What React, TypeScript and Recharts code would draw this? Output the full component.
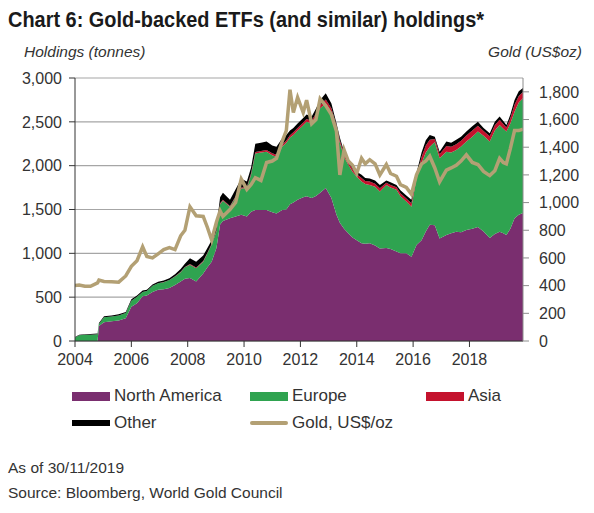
import React from 'react';
import { ComposedChart, Area, Line, XAxis, YAxis, CartesianGrid } from 'recharts';

const years = [
  2004.0, 2004.15, 2004.35, 2004.55, 2004.8, 2004.85, 2005.03, 2005.3, 2005.55, 2005.8,
  2006.0, 2006.2, 2006.4, 2006.55, 2006.75, 2006.95, 2007.15, 2007.35, 2007.55, 2007.75,
  2007.9, 2008.08, 2008.3, 2008.55, 2008.7, 2008.85, 2009.02, 2009.15, 2009.25, 2009.5,
  2009.7, 2009.9, 2010.1, 2010.25, 2010.4, 2010.6, 2010.8, 2011.0, 2011.15, 2011.35,
  2011.5, 2011.63, 2011.75, 2011.9, 2012.1, 2012.22, 2012.4, 2012.55, 2012.7, 2012.9,
  2013.1, 2013.28, 2013.4, 2013.55, 2013.7, 2013.85, 2014.0, 2014.17, 2014.3, 2014.46,
  2014.65, 2014.82, 2015.05, 2015.2, 2015.41, 2015.55, 2015.76, 2015.94, 2016.12, 2016.3,
  2016.45, 2016.59, 2016.77, 2016.94, 2017.18, 2017.35, 2017.53, 2017.7, 2017.89, 2018.1,
  2018.3, 2018.5, 2018.72, 2018.9, 2019.07, 2019.2, 2019.31, 2019.45, 2019.6, 2019.75,
  2019.9,
];

const northAmerica = [
  0, 0, 0, 0, 0, 170, 215, 225, 235, 260,
  390, 430, 510, 520, 560, 585, 590, 605, 640, 680,
  710, 720, 680, 770, 840, 905, 1060, 1330, 1370, 1400,
  1420, 1440, 1420, 1475, 1495, 1495, 1495, 1470, 1455, 1495,
  1500, 1560, 1580, 1610, 1640, 1650, 1630, 1655, 1690, 1745,
  1630, 1440, 1350, 1280, 1230, 1180, 1150, 1115, 1110, 1115,
  1090, 1055, 1060, 1050, 1020, 1000, 1000, 960, 1095, 1150,
  1250, 1325, 1320, 1170, 1210, 1230, 1245, 1240, 1265, 1280,
  1300, 1250, 1175, 1220, 1245, 1230, 1210, 1280, 1400, 1440,
  1460,
];

const europe = [
  40, 65, 70, 72, 78, 25, 55, 55, 57, 60,
  70, 75, 50, 50, 70, 75, 80, 90, 95, 105,
  130, 150, 150, 135, 160, 195, 190, 230, 230, 130,
  220, 300, 325, 425, 645, 655, 665, 650, 645, 720,
  760, 760, 770, 790, 820, 850, 850, 905, 965, 965,
  985, 990, 910, 820, 780, 750, 725, 705, 680, 665,
  670, 650, 720, 700, 705, 650, 590, 570, 760, 880,
  900, 890, 950, 915, 950, 920, 935, 980, 1010, 1050,
  1090, 1090, 1100, 1180, 1220, 1190, 1180, 1200, 1215, 1280,
  1310,
];

const asia = [
  0, 0, 0, 0, 0, 0, 0, 0, 0, 0,
  0, 0, 0, 0, 0, 0, 2, 2, 3, 5,
  5, 8, 8, 8, 8, 8, 8, 10, 10, 10,
  12, 12, 12, 15, 15, 18, 20, 22, 25, 25,
  28, 28, 30, 30, 32, 32, 32, 35, 38, 45,
  40, 30, 30, 30, 28, 30, 28, 38, 35, 38,
  35, 38, 25, 30, 28, 35, 35, 40, 30, 70,
  80, 80, 35, 45, 65, 65, 65, 65, 70, 70,
  65, 55, 60, 60, 60, 55, 45, 60, 80, 75,
  70,
];

const other = [
  5, 7, 8, 8, 7, 10, 12, 12, 13, 12,
  15, 15, 15, 15, 15, 15, 18, 18, 22, 30,
  35, 67, 67, 62, 52, 42, 42, 70, 80, 70,
  78, 98, 63, 65, 95, 92, 95, 88, 90, 70,
  62, 52, 50, 50, 53, 53, 48, 55, 57, 70,
  55, 25, 30, 30, 27, 30, 27, 37, 35, 37,
  35, 37, 25, 30, 27, 35, 35, 40, 30, 50,
  60, 55, 25, 30, 50, 45, 50, 45, 45, 50,
  45, 35, 35, 40, 35, 35, 30, 40, 55, 55,
  45,
];

const goldPrice = [
  400, 405, 395, 395, 420, 440, 430, 428, 425, 470,
  540, 580, 680, 610, 600, 630, 660, 675, 660, 760,
  800, 970, 905, 900, 820, 730, 860, 940, 900, 950,
  1000, 1170, 1095, 1130, 1180, 1160, 1290, 1300, 1320, 1440,
  1520, 1815, 1650, 1760, 1650, 1740, 1570, 1600, 1750, 1700,
  1635, 1515, 1200, 1380, 1300, 1270, 1210, 1320, 1280, 1310,
  1280, 1200, 1275, 1210, 1190, 1130, 1110, 1060, 1200, 1280,
  1300, 1335, 1250, 1150, 1235, 1250, 1270, 1300, 1345, 1290,
  1275, 1225, 1195, 1230, 1320, 1290, 1280, 1390, 1520, 1520,
  1530,
];

const xTicks = [2004, 2006, 2008, 2010, 2012, 2014, 2016, 2018];
const leftTicks = [0, 500, 1000, 1500, 2000, 2500, 3000];
const rightTicks = [0, 200, 400, 600, 800, 1000, 1200, 1400, 1600, 1800];

const data = years.map((year, i) => ({
  year,
  northAmerica: northAmerica[i],
  europe: europe[i],
  asia: asia[i],
  other: other[i],
  gold: goldPrice[i],
}));

const FONT = '"Liberation Sans", Arial, Helvetica, sans-serif';
const TXT = '#333333';
const PURPLE = '#7a2e6f';
const GREEN = '#2fa350';
const RED = '#c4122d';
const BLACK = '#000000';
const GOLD = '#b3a074';

const fmt = (v: number) => v.toLocaleString('en-US');

const legendRows = [
  [
    { label: 'North America', color: PURPLE, kind: 'box', x: 72 },
    { label: 'Europe', color: GREEN, kind: 'box', x: 250 },
    { label: 'Asia', color: RED, kind: 'box', x: 426 },
  ],
  [
    { label: 'Other', color: BLACK, kind: 'thin', x: 72 },
    { label: 'Gold, US$/oz', color: GOLD, kind: 'line', x: 250 },
  ],
];

export default function App() {
  return (
    <div style={{ position: 'absolute', left: 0, top: 0, width: 594, height: 513, background: '#fff', fontFamily: FONT, overflow: 'hidden' }}>
      <svg width={594} height={70} style={{ position: 'absolute', left: 0, top: 0 }}>
        <text x={8} y={27} fontFamily={FONT} fontWeight="bold" fontSize={22} fill="#1a1a1a" textLength={476} lengthAdjust="spacingAndGlyphs">
          Chart 6: Gold-backed ETFs (and similar) holdings*
        </text>
        <text x={24} y={57} fontFamily={FONT} fontStyle="italic" fontSize={15.5} fill={TXT}>
          Holdings (tonnes)
        </text>
        <text x={582} y={57} fontFamily={FONT} fontStyle="italic" fontSize={15.5} fill={TXT} textAnchor="end">
          Gold (US$oz)
        </text>
      </svg>
      <div style={{ position: 'absolute', left: 0, top: 0 }}>
        <ComposedChart width={594} height={513} data={data} margin={{ top: 78, right: 0, bottom: 142, left: 8 }}>
          <CartesianGrid yAxisId="left" vertical={false} stroke="#a6a6a6" strokeWidth={1.2} />
          <XAxis
            dataKey="year"
            type="number"
            domain={[2004, 2019.9]}
            ticks={xTicks}
            allowDataOverflow
            height={30}
            tickSize={6}
            tickMargin={7}
            stroke="#333"
            tick={{ fontSize: 16, fill: TXT, fontFamily: FONT }}
          />
          <YAxis
            yAxisId="left"
            domain={[0, 3000]}
            ticks={leftTicks}
            width={67}
            tickSize={6}
            tickMargin={7}
            stroke="#333"
            tickFormatter={fmt}
            tick={{ fontSize: 16, fill: TXT, fontFamily: FONT }}
          />
          <YAxis
            yAxisId="right"
            orientation="right"
            domain={[0, 1900]}
            ticks={rightTicks}
            width={71}
            tickSize={6}
            tickMargin={10}
            stroke="#8c8c8c"
            tickFormatter={fmt}
            tick={{ fontSize: 16, fill: TXT, fontFamily: FONT }}
          />
          <Area yAxisId="left" type="linear" dataKey="northAmerica" stackId="h" stroke="none" fill={PURPLE} fillOpacity={1} isAnimationActive={false} />
          <Area yAxisId="left" type="linear" dataKey="europe" stackId="h" stroke="none" fill={GREEN} fillOpacity={1} isAnimationActive={false} />
          <Area yAxisId="left" type="linear" dataKey="asia" stackId="h" stroke="none" fill={RED} fillOpacity={1} isAnimationActive={false} />
          <Area yAxisId="left" type="linear" dataKey="other" stackId="h" stroke="none" fill={BLACK} fillOpacity={1} isAnimationActive={false} />
          <Line yAxisId="right" type="linear" dataKey="gold" stroke={GOLD} strokeWidth={3.5} dot={false} isAnimationActive={false} />
        </ComposedChart>
      </div>
      {legendRows.map((row, r) =>
        row.map((item) => {
          const cy = r === 0 ? 396 : 423;
          const h = item.kind === 'box' ? 9 : item.kind === 'thin' ? 6 : 4;
          return (
            <React.Fragment key={item.label}>
              <div
                style={{
                  position: 'absolute',
                  left: item.x,
                  top: cy - h / 2,
                  width: 38,
                  height: h,
                  background: item.color,
                  borderRadius: item.kind === 'line' ? 2 : 0,
                }}
              />
              <div
                style={{
                  position: 'absolute',
                  left: item.x + 42,
                  top: cy - 11,
                  height: 22,
                  lineHeight: '22px',
                  fontSize: 17,
                  color: TXT,
                  whiteSpace: 'nowrap',
                }}
              >
                {item.label}
              </div>
            </React.Fragment>
          );
        })
      )}
      <div style={{ position: 'absolute', left: 8, top: 458, fontSize: 15.5, lineHeight: '20px', color: TXT, whiteSpace: 'nowrap' }}>
        As of 30/11/2019
      </div>
      <div style={{ position: 'absolute', left: 8, top: 483, fontSize: 15.5, lineHeight: '20px', color: TXT, whiteSpace: 'nowrap' }}>
        Source: Bloomberg, World Gold Council
      </div>
    </div>
  );
}
